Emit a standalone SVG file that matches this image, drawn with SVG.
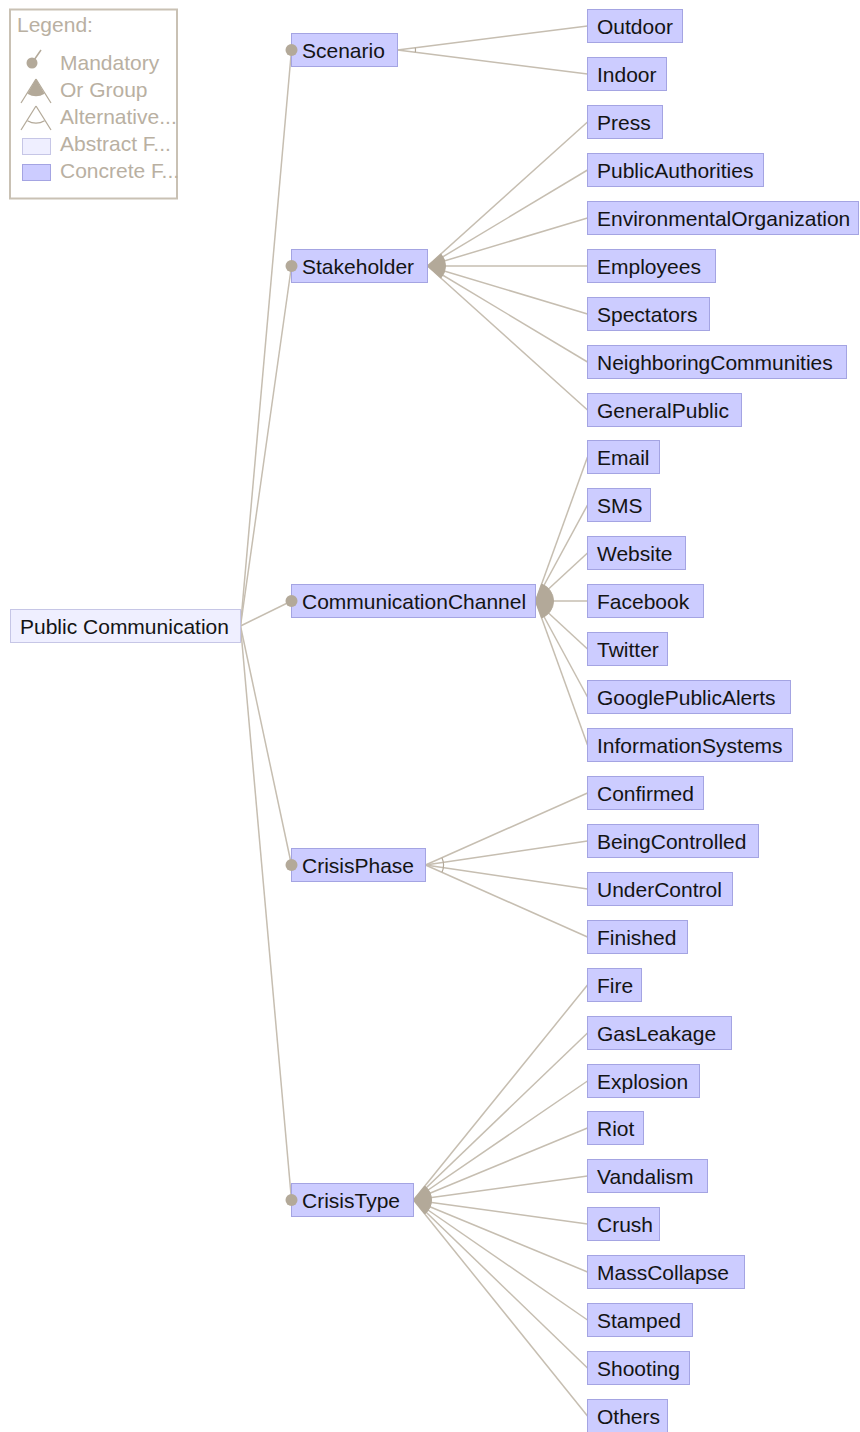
<svg xmlns="http://www.w3.org/2000/svg" width="860" height="1432" viewBox="0 0 860 1432">
<style>
.c rect{fill:#ccccff;stroke:#a4a4e2;stroke-width:1}
.a rect{fill:#efefff;stroke:#c6c6e6;stroke-width:1}
text{font-family:"Liberation Sans",Arial,sans-serif;font-size:21px;fill:#141414}
.lg text{fill:#b9b0a2}
#connectors line{stroke:#c6beb1;stroke-width:1.5}
.dot{fill:#b3a999}
.orf{fill:#b3a999;stroke:#b3a999;stroke-width:1}
.alt{fill:none;stroke:#b3a999;stroke-width:1.2}
</style>
<rect width="860" height="1432" fill="#ffffff"/>
<g id="legend" class="lg">
<rect x="10" y="9.5" width="167" height="189" fill="#fff" stroke="#c9c1b4" stroke-width="2"/>
<text x="17" y="32">Legend:</text>
<line x1="32" y1="63" x2="41" y2="50" stroke="#b3a999" stroke-width="1.5"/>
<circle cx="32" cy="63" r="5.5" fill="#b3a999"/>
<text x="60" y="70">Mandatory</text>
<line x1="36" y1="79" x2="21" y2="103" stroke="#b3a999" stroke-width="1.2"/>
<line x1="36" y1="79" x2="51" y2="103" stroke="#b3a999" stroke-width="1.2"/>
<path d="M36,79 L27.4,93.7 A17,17 0 0 0 44.6,93.7 Z" fill="#b3a999"/>
<text x="60" y="97">Or Group</text>
<line x1="36" y1="106" x2="21" y2="130" stroke="#b3a999" stroke-width="1.2"/>
<line x1="36" y1="106" x2="51" y2="130" stroke="#b3a999" stroke-width="1.2"/>
<path d="M27.4,120.7 A17,17 0 0 0 44.6,120.7" fill="none" stroke="#b3a999" stroke-width="1.2"/>
<text x="60" y="124">Alternative...</text>
<rect x="22.5" y="138.5" width="28" height="16" fill="#efefff" stroke="#c6c6e6"/>
<text x="60" y="151">Abstract F...</text>
<rect x="22.5" y="164.5" width="28" height="16" fill="#ccccff" stroke="#a4a4e2"/>
<text x="60" y="178">Concrete F...</text>
</g>
<g id="connectors">
<line x1="240.5" y1="626" x2="291.5" y2="50"/>
<line x1="240.5" y1="626" x2="291.5" y2="266"/>
<line x1="240.5" y1="626" x2="291.5" y2="601"/>
<line x1="240.5" y1="626" x2="291.5" y2="865"/>
<line x1="240.5" y1="626" x2="291.5" y2="1200"/>
<line x1="397.5" y1="50" x2="587.5" y2="26"/>
<line x1="397.5" y1="50" x2="587.5" y2="74"/>
<line x1="427.5" y1="266" x2="587.5" y2="122"/>
<line x1="427.5" y1="266" x2="587.5" y2="170"/>
<line x1="427.5" y1="266" x2="587.5" y2="218"/>
<line x1="427.5" y1="266" x2="587.5" y2="266"/>
<line x1="427.5" y1="266" x2="587.5" y2="314"/>
<line x1="427.5" y1="266" x2="587.5" y2="362"/>
<line x1="427.5" y1="266" x2="587.5" y2="410"/>
<line x1="535.5" y1="601" x2="587.5" y2="457"/>
<line x1="535.5" y1="601" x2="587.5" y2="505"/>
<line x1="535.5" y1="601" x2="587.5" y2="553"/>
<line x1="535.5" y1="601" x2="587.5" y2="601"/>
<line x1="535.5" y1="601" x2="587.5" y2="649"/>
<line x1="535.5" y1="601" x2="587.5" y2="697"/>
<line x1="535.5" y1="601" x2="587.5" y2="745"/>
<line x1="425.5" y1="865" x2="587.5" y2="793"/>
<line x1="425.5" y1="865" x2="587.5" y2="841"/>
<line x1="425.5" y1="865" x2="587.5" y2="889"/>
<line x1="425.5" y1="865" x2="587.5" y2="937"/>
<line x1="413.5" y1="1200" x2="587.5" y2="985"/>
<line x1="413.5" y1="1200" x2="587.5" y2="1033"/>
<line x1="413.5" y1="1200" x2="587.5" y2="1081"/>
<line x1="413.5" y1="1200" x2="587.5" y2="1128"/>
<line x1="413.5" y1="1200" x2="587.5" y2="1176"/>
<line x1="413.5" y1="1200" x2="587.5" y2="1224"/>
<line x1="413.5" y1="1200" x2="587.5" y2="1272"/>
<line x1="413.5" y1="1200" x2="587.5" y2="1320"/>
<line x1="413.5" y1="1200" x2="587.5" y2="1368"/>
<line x1="413.5" y1="1200" x2="587.5" y2="1416"/>
<path class="alt" d="M415.36,47.74 A18,18 0 0 1 415.36,52.26"/>
<path class="orf" d="M427.5,266 L440.88,253.96 A18,18 0 0 1 440.88,278.04 Z"/>
<path class="orf" d="M535.5,601 L541.61,584.07 A18,18 0 0 1 541.61,617.93 Z"/>
<path class="alt" d="M441.95,857.69 A18,18 0 0 1 441.95,872.31"/>
<path class="orf" d="M413.5,1200 L424.82,1186.01 A18,18 0 0 1 424.82,1213.99 Z"/>
</g>
<g id="n-root" class="a"><rect x="10.5" y="609.5" width="230" height="33"/><text x="20" y="634">Public Communication</text></g>
<g id="n-scenario" class="c"><rect x="291.5" y="33.5" width="106" height="33"/><text x="302" y="58">Scenario</text><circle class="dot" cx="291.5" cy="50" r="6"/></g>
<g id="n-stakeholder" class="c"><rect x="291.5" y="249.5" width="136" height="33"/><text x="302" y="274">Stakeholder</text><circle class="dot" cx="291.5" cy="266" r="6"/></g>
<g id="n-communicationchannel" class="c"><rect x="291.5" y="584.5" width="244" height="33"/><text x="302" y="609">CommunicationChannel</text><circle class="dot" cx="291.5" cy="601" r="6"/></g>
<g id="n-crisisphase" class="c"><rect x="291.5" y="848.5" width="134" height="33"/><text x="302" y="873">CrisisPhase</text><circle class="dot" cx="291.5" cy="865" r="6"/></g>
<g id="n-crisistype" class="c"><rect x="291.5" y="1183.5" width="122" height="33"/><text x="302" y="1208">CrisisType</text><circle class="dot" cx="291.5" cy="1200" r="6"/></g>
<g id="n-outdoor" class="c"><rect x="587.5" y="9.5" width="95" height="33"/><text x="597" y="34">Outdoor</text></g>
<g id="n-indoor" class="c"><rect x="587.5" y="57.5" width="79" height="33"/><text x="597" y="82">Indoor</text></g>
<g id="n-press" class="c"><rect x="587.5" y="105.5" width="75" height="33"/><text x="597" y="130">Press</text></g>
<g id="n-publicauthorities" class="c"><rect x="587.5" y="153.5" width="176" height="33"/><text x="597" y="178">PublicAuthorities</text></g>
<g id="n-environmentalorganization" class="c"><rect x="587.5" y="201.5" width="271" height="33"/><text x="597" y="226">EnvironmentalOrganization</text></g>
<g id="n-employees" class="c"><rect x="587.5" y="249.5" width="128" height="33"/><text x="597" y="274">Employees</text></g>
<g id="n-spectators" class="c"><rect x="587.5" y="297.5" width="122" height="33"/><text x="597" y="322">Spectators</text></g>
<g id="n-neighboringcommunities" class="c"><rect x="587.5" y="345.5" width="259" height="33"/><text x="597" y="370">NeighboringCommunities</text></g>
<g id="n-generalpublic" class="c"><rect x="587.5" y="393.5" width="154" height="33"/><text x="597" y="418">GeneralPublic</text></g>
<g id="n-email" class="c"><rect x="587.5" y="440.5" width="72" height="33"/><text x="597" y="465">Email</text></g>
<g id="n-sms" class="c"><rect x="587.5" y="488.5" width="63" height="33"/><text x="597" y="513">SMS</text></g>
<g id="n-website" class="c"><rect x="587.5" y="536.5" width="98" height="33"/><text x="597" y="561">Website</text></g>
<g id="n-facebook" class="c"><rect x="587.5" y="584.5" width="116" height="33"/><text x="597" y="609">Facebook</text></g>
<g id="n-twitter" class="c"><rect x="587.5" y="632.5" width="80" height="33"/><text x="597" y="657">Twitter</text></g>
<g id="n-googlepublicalerts" class="c"><rect x="587.5" y="680.5" width="203" height="33"/><text x="597" y="705">GooglePublicAlerts</text></g>
<g id="n-informationsystems" class="c"><rect x="587.5" y="728.5" width="205" height="33"/><text x="597" y="753">InformationSystems</text></g>
<g id="n-confirmed" class="c"><rect x="587.5" y="776.5" width="116" height="33"/><text x="597" y="801">Confirmed</text></g>
<g id="n-beingcontrolled" class="c"><rect x="587.5" y="824.5" width="171" height="33"/><text x="597" y="849">BeingControlled</text></g>
<g id="n-undercontrol" class="c"><rect x="587.5" y="872.5" width="145" height="33"/><text x="597" y="897">UnderControl</text></g>
<g id="n-finished" class="c"><rect x="587.5" y="920.5" width="100" height="33"/><text x="597" y="945">Finished</text></g>
<g id="n-fire" class="c"><rect x="587.5" y="968.5" width="54" height="33"/><text x="597" y="993">Fire</text></g>
<g id="n-gasleakage" class="c"><rect x="587.5" y="1016.5" width="144" height="33"/><text x="597" y="1041">GasLeakage</text></g>
<g id="n-explosion" class="c"><rect x="587.5" y="1064.5" width="112" height="33"/><text x="597" y="1089">Explosion</text></g>
<g id="n-riot" class="c"><rect x="587.5" y="1111.5" width="56" height="33"/><text x="597" y="1136">Riot</text></g>
<g id="n-vandalism" class="c"><rect x="587.5" y="1159.5" width="120" height="33"/><text x="597" y="1184">Vandalism</text></g>
<g id="n-crush" class="c"><rect x="587.5" y="1207.5" width="72" height="33"/><text x="597" y="1232">Crush</text></g>
<g id="n-masscollapse" class="c"><rect x="587.5" y="1255.5" width="157" height="33"/><text x="597" y="1280">MassCollapse</text></g>
<g id="n-stamped" class="c"><rect x="587.5" y="1303.5" width="105" height="33"/><text x="597" y="1328">Stamped</text></g>
<g id="n-shooting" class="c"><rect x="587.5" y="1351.5" width="102" height="33"/><text x="597" y="1376">Shooting</text></g>
<g id="n-others" class="c"><rect x="587.5" y="1399.5" width="80" height="33"/><text x="597" y="1424">Others</text></g>
</svg>
